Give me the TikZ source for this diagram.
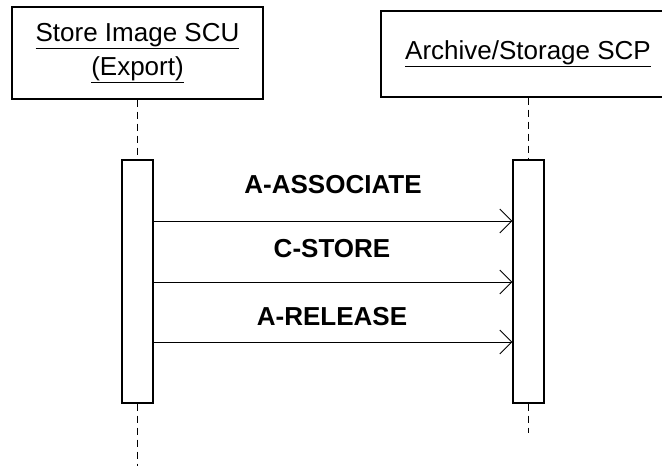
\documentclass[tikz,border=0pt]{standalone}
\usepackage{fontspec}
\setmainfont{Liberation Sans}
\usetikzlibrary{arrows.meta}
\begin{document}
\begin{tikzpicture}[x=1pt,y=-1pt,
  headbox/.style={draw, line width=1.2pt, fill=white, minimum width=#1, inner sep=0pt, align=center, font=\fontsize{26}{32}\selectfont},
  actbox/.style={draw, line width=1.2pt, fill=white, minimum width=31pt, minimum height=243pt, inner sep=0pt},
  life/.style={line width=1.2pt, dash pattern=on 7pt off 5pt},
  msg/.style={line width=0.9pt, -{Straight Barb[length=12pt,width=24pt,line width=0.9pt]}},
  msglabel/.style={font=\bfseries\fontsize{26}{30}\selectfont, inner sep=0pt}]
\useasboundingbox (0,0) rectangle (662,466);
\node[headbox=251pt, minimum height=92pt] (scu) at (137.5,53) {\underline{Store Image SCU}\\[2pt]\underline{(Export)}};
\node[headbox=294pt, minimum height=86pt] (scp) at (528,54) {\underline{Archive/Storage SCP}};
\node[actbox] (act1) at (137.5,281.5) {};
\node[actbox] (act2) at (528.5,281.5) {};
\coordinate (end1) at (137.5,466);
\coordinate (end2) at (528.5,433);
\draw[life] (scu.south) -- (act1.north);
\draw[life] (act1.south) -- (end1);
\draw[life] (scp.south -| act2.north) -- (act2.north);
\draw[life] (act2.south) -- (end2);
\draw[msg] (act1.east |- 0,221) -- (act2.west |- 0,221);
\draw[msg] (act1.east |- 0,282) -- (act2.west |- 0,282);
\draw[msg] (act1.east |- 0,342) -- (act2.west |- 0,342);
\node[msglabel] (l1) at (333,185) {A-ASSOCIATE};
\node[msglabel] (l2) at (332,249) {C-STORE};
\node[msglabel] (l3) at (332,317) {A-RELEASE};
\end{tikzpicture}
\end{document}
